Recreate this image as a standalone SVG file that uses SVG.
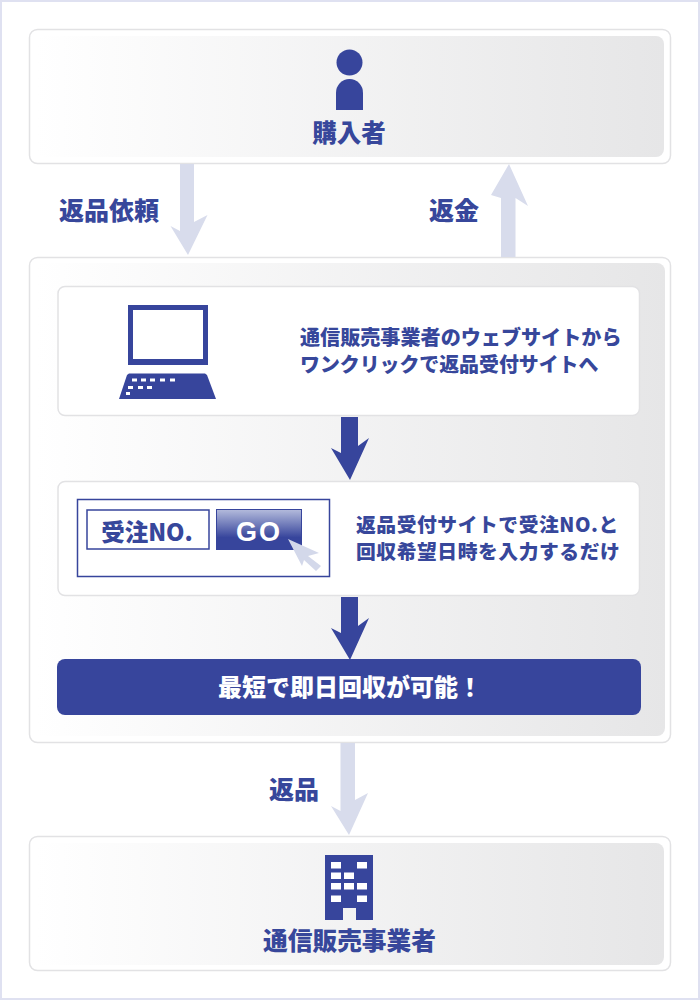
<svg xmlns="http://www.w3.org/2000/svg" width="700" height="1000" viewBox="0 0 700 1000">
<style>
.card{fill:#fff;stroke:#e2e2e4;stroke-width:1.5}
.t{font-family:"Noto Sans CJK JP","Liberation Sans",sans-serif;font-weight:900;fill:#37479b}
.ic{fill:#37459c}
.l{fill:#d8dcec}
.w{fill:#fff}
</style>
<defs>
<linearGradient id="g"><stop offset="0" stop-color="#fff"/><stop offset="1" stop-color="#e6e6e7"/></linearGradient>
<linearGradient id="go" x1="0" y1="0" x2="0" y2="1"><stop offset="0" stop-color="#b4bbdc"/><stop offset=".7" stop-color="#37459c"/></linearGradient>
</defs>
<rect x="1" y="1" width="698" height="998" fill="#fff" stroke="#dfe1f1" stroke-width="2"/>
<g id="buyer">
<rect class="card" x="29.500" y="29.500" width="641" height="134" rx="8"/>
<rect x="36" y="36" width="628" height="121" rx="8" fill="url(#g)"/>
<circle class="ic" cx="349.500" cy="62.500" r="13"/>
<path class="ic" d="M336 110V93a13.500 14 0 0 1 27 0V110z"/>
<text class="t" x="349" y="142" font-size="24.500" text-anchor="middle">購入者</text>
</g>
<g id="process">
<rect class="card" x="29.500" y="257.500" width="641" height="485" rx="8"/>
<rect x="36" y="263" width="629" height="473" rx="8" fill="url(#g)"/>
</g>
<g id="step1">
<rect class="card" x="58" y="286.500" width="581.500" height="129" rx="7" stroke-width="1"/>
<path class="ic" fill-rule="evenodd" d="M128 305H208V365H128zM133 310V359H203V310z"/>
<path class="ic" d="M129 373.500H205L207 375L216 399H119L127 375z"/>
<g class="w"><rect x="132" y="378.500" width="5" height="3"/><rect x="141" y="378.500" width="5" height="3"/><rect x="150" y="378.500" width="5" height="3"/><rect x="160" y="378.500" width="5" height="3"/><rect x="170" y="378.500" width="5" height="3"/><rect x="128" y="386" width="5" height="3"/><rect x="138" y="386" width="5" height="3"/><rect x="147" y="386" width="5" height="3"/><rect x="126" y="392" width="4" height="3"/></g>
<text class="t" x="300" y="345" font-size="20.100">通信販売事業者のウェブサイトから</text>
<text class="t" x="300" y="372" font-size="19.900">ワンクリックで返品受付サイトへ</text>
</g>
<g id="step2">
<rect class="card" x="58" y="481.500" width="581.500" height="114" rx="7" stroke-width="1"/>
<rect x="77.500" y="499.500" width="252" height="77" fill="#fff" stroke="#37459c" stroke-width="1.500"/>
<rect x="87" y="510" width="122" height="39" fill="#fff" stroke="#37459c" stroke-width="1.500"/>
<text class="t" x="147" y="541" font-size="23.500" text-anchor="middle">受注NO.</text>
<rect x="216.500" y="509.500" width="85" height="40" fill="url(#go)" stroke="#37459c"/>
<text x="259" y="541" font-size="27" font-weight="700" letter-spacing="2" text-anchor="middle" font-family="'Liberation Sans',sans-serif" fill="#fff">GO</text>
<path d="M288 539L319 553L308 556L321 566L316 571L304 560L302 566z" fill="#d3d8ea"/>
<text class="t" x="356" y="532" font-size="19.800" letter-spacing=".55">返品受付サイトで受注NO.と</text>
<text class="t" x="356" y="559" font-size="19.800" letter-spacing=".55">回収希望日時を入力するだけ</text>
</g>
<g id="result">
<rect class="ic" x="57" y="659" width="584" height="56" rx="8"/>
<text x="350" y="696" font-size="24" font-weight="900" text-anchor="middle" font-family="'Noto Sans CJK JP',sans-serif" fill="#fff">最短で即日回収が可能！</text>
</g>
<g id="seller">
<rect class="card" x="29.500" y="836.500" width="641" height="134" rx="8"/>
<rect x="36" y="843" width="628" height="122" rx="8" fill="url(#g)"/>
<path class="ic" d="M325 855H373V920H356V908H343V920H325z"/>
<g class="w"><rect x="331" y="862" width="10" height="6.500"/><rect x="357" y="862" width="10" height="6.500"/><rect x="331" y="872.500" width="10" height="6.500"/><rect x="344" y="872.500" width="10" height="6.500"/><rect x="331" y="883" width="10" height="6.500"/><rect x="344" y="883" width="10" height="6.500"/><rect x="357" y="883" width="10" height="6.500"/><rect x="331" y="895.500" width="10" height="6.500"/><rect x="357" y="895.500" width="10" height="6.500"/></g>
<text class="t" x="349.500" y="950" font-size="24.700" text-anchor="middle">通信販売事業者</text>
</g>
<g id="connectors">
<path class="l" d="M180 164H194V222L207.500 215L188 255L170.500 226L180 231z"/>
<path class="l" d="M501 257V198L491 195L509 164L528 206L515.500 198V257z"/>
<path class="l" d="M340.500 743H355V800L368 793L349 835L331 806L340.500 811z"/>
<path class="ic" d="M341 417H358V446L369 438L350 480L331 448L341 453z"/>
<path class="ic" d="M341 597H358V626L369 618L350 660L331 628L341 633z"/>
</g>
<g id="labels">
<text class="t" x="59" y="220" font-size="25">返品依頼</text>
<text class="t" x="429" y="220" font-size="25">返金</text>
<text class="t" x="269" y="799" font-size="25">返品</text>
</g>
</svg>
